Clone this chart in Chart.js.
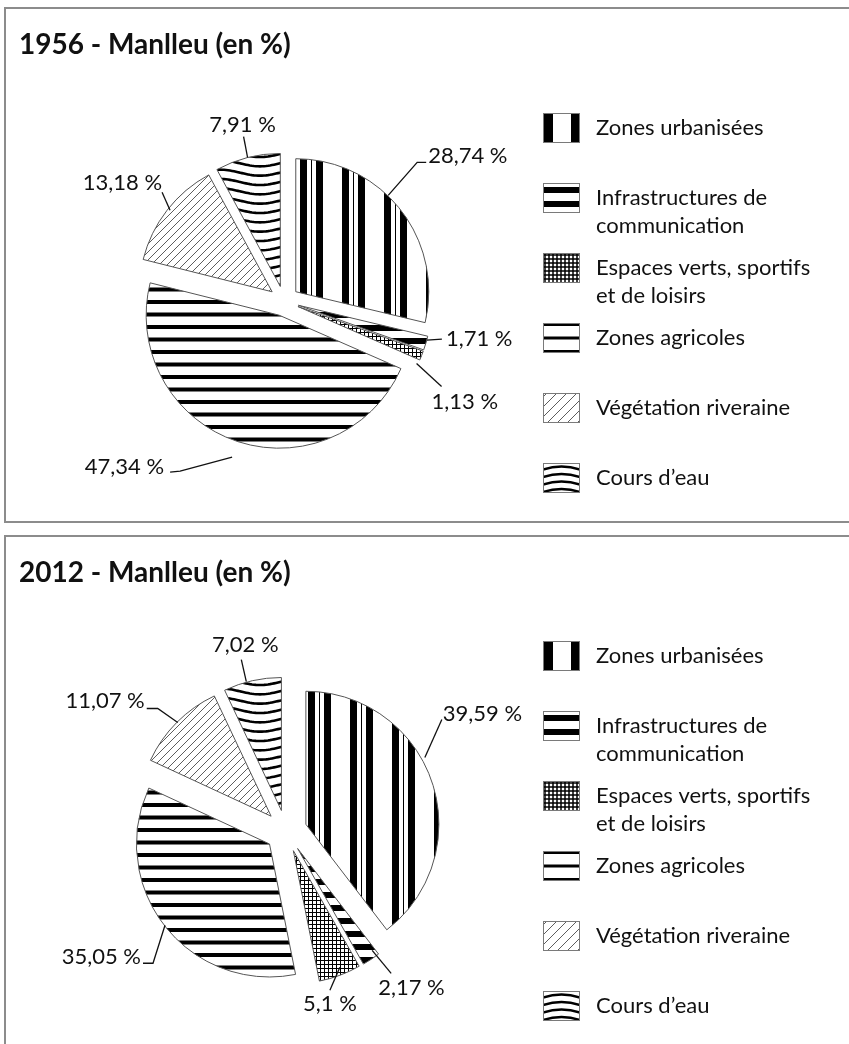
<!DOCTYPE html>
<html><head><meta charset="utf-8">
<script src="https://cdn.jsdelivr.net/npm/chart.js@4/dist/chart.umd.min.js"></script>
<style>
html,body{margin:0;padding:0;background:#fff;}
body{width:849px;height:1044px;overflow:hidden;position:relative;}
.panel{position:absolute;left:4px;width:900px;border:2px solid #8c8c8c;box-sizing:border-box;pointer-events:none;z-index:2;}
.title{position:absolute;left:19px;font-family:Lato;font-weight:bold;font-size:28px;line-height:34px;color:#111;white-space:nowrap;z-index:2;}
.wrap{position:absolute;left:0;width:849px;height:540px;}
</style></head><body>
<div class="panel" style="top:7px;height:516px"></div>
<div class="panel" style="top:535px;height:560px"></div>
<div class="title" id="t1" style="top:26px">1956 - Manlleu (en %)</div>
<div class="title" id="t2" style="top:554px">2012 - Manlleu (en %)</div>
<div class="wrap" style="top:0"><canvas id="c1"></canvas></div>
<div class="wrap" style="top:528px"><canvas id="c2"></canvas></div>
<script>
// ---- data ----
const categories = ['Zones urbanisées', 'Infrastructures de communication', 'Espaces verts, sportifs et de loisirs', 'Zones agricoles', 'Végétation riveraine', 'Cours d’eau'];
const legendLines = [['Zones urbanisées'], ['Infrastructures de', 'communication'], ['Espaces verts, sportifs', 'et de loisirs'], ['Zones agricoles'], ['Végétation riveraine'], ['Cours d’eau']];
const values1956 = [28.74, 1.71, 1.13, 47.34, 13.18, 7.91];
const values2012 = [39.59, 2.17, 5.1, 35.05, 11.07, 7.02];
const titles = ['1956 - Manlleu (en %)', '2012 - Manlleu (en %)'];

// ---- label placement (offsets from each slice's outer mid-point) ----
const labelLayout1956 = [
  {line: [[-12, -14], [17, -47], [26, -47]], text: [28, -53], align: 'left'},
  {line: [[1, -3], [16, -4]], text: [20, -4], align: 'left'},
  {line: [[-5, 8], [20, 31]], text: [10, 46], align: 'left'},
  {line: [[-4, 16], [-56, 30], [-66, 31]], text: [-72, 26], align: 'right'},
  {line: [[3, 0], [-5, -18]], text: [-5, -27], align: 'right'},
  {line: [[0, 0], [-4, -21]], text: [-5, -33], align: 'center'}
];
const labelLayout2012 = [
  {line: [[-7, -24], [10, -62]], text: [11, -68], align: 'left'},
  {line: [[1, -9], [20, 14]], text: [7, 29], align: 'left'},
  {line: [[0, -8], [-10, 15]], text: [-10, 29], align: 'center'},
  {line: [[0, -1], [-12, 37], [-22, 37]], text: [-24, 31], align: 'right'},
  {line: [[1, 0], [-19, -14], [-30, -14]], text: [-32, -22], align: 'right'},
  {line: [[-6, 1], [-11, -21]], text: [-7, -36], align: 'center'}
];

document.getElementById('t1').textContent = titles[0];
document.getElementById('t2').textContent = titles[1];

const fmt = v => String(v).replace('.', ',') + ' %';

// ---- exploded pie slice element (full translation, constant radius) ----
class ExplodedArc extends Chart.ArcElement {
  draw(ctx) {
    const o = this.options;
    const {x, y, startAngle, endAngle, outerRadius} = this;
    const mid = (startAngle + endAngle) / 2;
    const d = o.offset || 0;
    const cx = x + Math.cos(mid) * d;
    const cy = y + Math.sin(mid) * d;
    ctx.save();
    ctx.beginPath();
    ctx.moveTo(cx, cy);
    ctx.arc(cx, cy, outerRadius, startAngle, endAngle);
    ctx.closePath();
    ctx.fillStyle = o.backgroundColor;
    ctx.fill();
    if (o.borderWidth) {
      ctx.lineWidth = o.borderWidth;
      ctx.strokeStyle = o.borderColor;
      ctx.lineJoin = 'miter';
      ctx.stroke();
    }
    ctx.restore();
  }
}
ExplodedArc.id = 'explodedArc';
Chart.register(ExplodedArc);
Chart.defaults.datasets.pie.dataElementType = 'explodedArc';

// ---- patterns ----
function tile(w, h, paint) {
  const c = document.createElement('canvas');
  c.width = w; c.height = h;
  const g = c.getContext('2d');
  g.fillStyle = '#fff'; g.fillRect(0, 0, w, h);
  g.fillStyle = '#000'; g.strokeStyle = '#000';
  paint(g, w, h);
  return c;
}
const piePainters = [
  [42, 4, g => { g.fillRect(0, 0, 7, 4); g.fillRect(11, 0, 1, 4); g.fillRect(16, 0, 7, 4); }],
  [4, 13, g => { g.fillRect(0, 0, 4, 6); }],
  [4, 4, g => { g.fillRect(0, 0, 4, 1); g.fillRect(0, 0, 1, 4); }],
  [4, 25, g => { g.fillRect(0, 0, 4, 4); g.fillRect(0, 12.5, 4, 4); }],
  [16, 16, g => { g.lineWidth = 0.8; g.strokeStyle = '#333'; for (let c = 0; c <= 32; c += 8) { g.beginPath(); g.moveTo(c - 16, 16); g.lineTo(c, 0); g.stroke(); } }],
  [80, 28, g => { g.lineWidth = 2.6; for (let j = 0; j < 3; j++) { const y0 = 4.67 + j * 9.33; g.beginPath(); for (let x = -2; x <= 82; x += 2) { const y = y0 + 3 * Math.sin(2 * Math.PI * x / 80); if (x === -2) g.moveTo(x, y); else g.lineTo(x, y); } g.stroke(); } }]
];
function swatch(paint) {
  const c = document.createElement('canvas');
  c.width = 42; c.height = 30;
  const g = c.getContext('2d');
  g.save(); g.beginPath(); g.rect(0, 0, 37, 30); g.clip();
  g.fillStyle = '#fff'; g.fillRect(0, 0, 37, 30);
  g.fillStyle = '#000'; g.strokeStyle = '#000';
  paint(g);
  g.restore();
  g.strokeStyle = '#7a7a7a'; g.lineWidth = 1; g.strokeRect(0.5, 0.5, 36, 29);
  return c;
}
const swatchPainters = [
  g => { g.fillRect(0, 0, 10, 30); g.fillRect(28, 0, 9, 30); },
  g => { g.fillRect(0, 4, 37, 6); g.fillRect(0, 18, 37, 6); },
  g => { g.lineWidth = 1.5; for (let x = 2; x < 37; x += 4) { g.beginPath(); g.moveTo(x, 0); g.lineTo(x, 30); g.stroke(); } for (let y = 2; y < 30; y += 4) { g.beginPath(); g.moveTo(0, y); g.lineTo(37, y); g.stroke(); } },
  g => { g.fillRect(0, 0, 37, 3); g.fillRect(0, 13.5, 37, 3); g.fillRect(0, 27, 37, 3); },
  g => { g.lineWidth = 0.8; g.strokeStyle = '#333'; for (let c = 4; c < 75; c += 10) { g.beginPath(); g.moveTo(c - 30, 30); g.lineTo(c, 0); g.stroke(); } },
  g => { g.lineWidth = 2.4; for (const y of [4, 11.5, 19, 26.5]) { g.beginPath(); g.moveTo(0, y + 2.5); g.quadraticCurveTo(18.5, y - 3.5, 37, y + 2.5); g.stroke(); } }
];

// legend geometry: box left edge at x = 543 (legend left = 529 + label padding 14)
const LEGEND_FONT = {family: 'Lato', size: 22, lineHeight: '28px'};
const measureCtx = document.createElement('canvas').getContext('2d');
measureCtx.font = '22px Lato';
const longestLine = Math.max(...legendLines.flat().map(t => measureCtx.measureText(t).width));
const legendWidth = Math.ceil(longestLine) + 14 + 42 + 11 + 4;
const legendRightPad = 849 - 529 - legendWidth;

// ---- plugins ----
const legendSwatchPlugin = {
  id: 'legendSwatch',
  beforeDraw(chart) {
    const lg = chart.legend;
    if (!lg || !lg.legendHitBoxes) return;
    lg.legendHitBoxes.forEach((hb, i) => {
      const item = lg.legendItems[i];
      if (item && item.fillStyle && item.fillStyle.setTransform) {
        item.fillStyle.setTransform(new DOMMatrix([1, 0, 0, 1, hb.left, hb.top]));
      }
    });
  }
};
function makeLabelPlugin(values, layout) {
  return {
    id: 'leaderLabels',
    afterDatasetsDraw(chart) {
      const meta = chart.getDatasetMeta(0);
      const ctx = chart.ctx;
      ctx.save();
      ctx.font = '22px Lato';
      ctx.fillStyle = '#111';
      ctx.strokeStyle = '#111';
      ctx.lineWidth = 1.3;
      ctx.textBaseline = 'middle';
      meta.data.forEach((arc, i) => {
        const spec = layout[i];
        const mid = (arc.startAngle + arc.endAngle) / 2;
        const d = arc.options.offset || 0;
        const ax = arc.x + Math.cos(mid) * (d + arc.outerRadius);
        const ay = arc.y + Math.sin(mid) * (d + arc.outerRadius);
        ctx.beginPath();
        spec.line.forEach(([dx, dy], k) => k ? ctx.lineTo(ax + dx, ay + dy) : ctx.moveTo(ax + dx, ay + dy));
        ctx.stroke();
        ctx.textAlign = spec.align;
        ctx.fillText(fmt(values[i]), ax + spec.text[0], ay + spec.text[1]);
      });
      ctx.restore();
    }
  };
}

function buildChart(id, values, offset, padTop, padLeft, urbPhase, layout) {
  const canvas = document.getElementById(id);
  const ctx = canvas.getContext('2d');
  const piePatterns = piePainters.map(([w, h, p], i) => {
    const pat = ctx.createPattern(tile(w, h, p), 'repeat');
    if (i === 0) pat.setTransform(new DOMMatrix([1, 0, 0, 1, urbPhase, 0]));
    return pat;
  });
  const swatches = swatchPainters.map(p => ctx.createPattern(swatch(p), 'no-repeat'));
  return new Chart(ctx, {
    type: 'pie',
    data: {
      labels: categories,
      datasets: [{
        data: values,
        backgroundColor: piePatterns,
        borderColor: '#555',
        borderWidth: 1,
        offset: offset,
        hoverOffset: 0,
        radius: 133
      }]
    },
    options: {
      responsive: true,
      maintainAspectRatio: false,
      animation: false,
      devicePixelRatio: 1,
      events: [],
      layout: {padding: {top: padTop, left: padLeft, right: legendRightPad, bottom: 7}},
      plugins: {
        tooltip: {enabled: false},
        title: {display: false},
        legend: {
          position: 'right',
          align: 'end',
          maxWidth: legendWidth,
          labels: {
            boxWidth: 42,
            boxHeight: 30,
            padding: 14,
            color: '#111',
            font: LEGEND_FONT,
            generateLabels: () => legendLines.map((lines, i) => ({
              text: lines.length > 1 ? lines : [lines[0], ''],
              fillStyle: swatches[i],
              strokeStyle: 'rgba(0,0,0,0)',
              lineWidth: 0,
              hidden: false,
              index: i,
              fontColor: '#111'
            }))
          }
        }
      }
    },
    plugins: [legendSwatchPlugin, makeLabelPlugin(values, layout)]
  });
}

buildChart('c1', values1956, 15, 69, 39, 6, labelLayout1956);
buildChart('c2', values2012, 21, 73, 43, 14, labelLayout2012);
</script>
</body></html>
